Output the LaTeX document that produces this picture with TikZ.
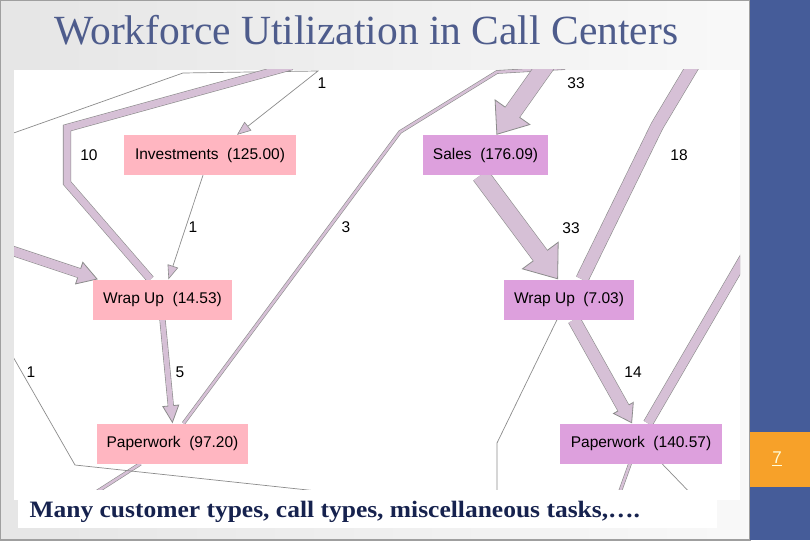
\documentclass[tikz,border=0pt]{standalone}
\usepackage{fontspec}
\setmainfont{Liberation Serif}
\setsansfont{Liberation Sans}
\usetikzlibrary{arrows.meta}

\definecolor{slideblue}{RGB}{69,92,153}
\definecolor{slideorange}{RGB}{247,161,41}
\definecolor{titleblue}{RGB}{78,92,140}
\definecolor{captionblue}{RGB}{22,34,78}
\definecolor{flowfill}{RGB}{214,192,214}
\definecolor{flowline}{RGB}{140,140,140}
\definecolor{invpink}{RGB}{255,182,193}
\definecolor{salesplum}{RGB}{221,160,221}

\pgfdeclarelayer{back}
\pgfdeclarelayer{flows}
\pgfsetlayers{back,flows,main}

\tikzset{
  act/.style={font=\sffamily\fontsize{15.5}{18}\selectfont, inner sep=0pt, minimum height=40pt},
  invact/.style={act, fill=invpink},
  salesact/.style={act, fill=salesplum},
  count/.style={font=\sffamily\fontsize{15.5}{18}\selectfont},
  oneflow/.style={draw=flowline, line width=0.7pt},
  onehead/.style={oneflow, -{Triangle[length=14pt,width=11pt,fill=flowfill,line width=0.6pt]}},
  band/.style={draw=flowline, line width=#1+1.2pt, postaction={draw=flowfill, line width=#1}},
  headband/.style n args={3}{draw=flowline, line width=#1+1.2pt,
    -{Triangle[length=#2,width=#3,fill=flowfill,line width=0.8pt]},
    postaction={draw=flowfill, line width=#1, -, shorten >=0.55*#2}}
}

\begin{document}
\begin{tikzpicture}[x=1pt,y=-1pt]
  \useasboundingbox (0,0) rectangle (810,540);

  % slide
  \begin{pgfonlayer}{back}
    \fill[left color=gray!20, right color=gray!5] (0,0) rectangle (750,540);
    \draw[gray!75, line width=2.5pt] (0,0) rectangle (750,540);
    \fill[slideblue] (750,0) rectangle (810,540);
    \fill[slideorange] (750,432) rectangle (810,487);
    \fill[white] (14,70) rectangle (740,500);
  \end{pgfonlayer}
  \node[anchor=base west, text=titleblue, font=\fontsize{41.5}{44}\selectfont] (title) at (51,45) {Workforce Utilization in Call Centers};
  \node[text=white!85!yellow, font=\sffamily\fontsize{17}{19}\selectfont] (pagenum) at (777,459) {\underline{7}};

  % activities
  \node[invact, minimum width=172pt] (inv) at (210,155) {Investments~ (125.00)};
  \node[salesact, minimum width=125pt] (sales) at (485.5,155) {Sales~ (176.09)};
  \node[invact, minimum width=139pt] (wu1) at (162.5,299.5) {Wrap Up~ (14.53)};
  \node[salesact, minimum width=130pt] (wu2) at (569,299.5) {Wrap Up~ (7.03)};
  \node[invact, minimum width=151pt] (pw1) at (172.5,443.5) {Paperwork~ (97.20)};
  \node[salesact, minimum width=162pt] (pw2) at (641,443.5) {Paperwork~ (140.57)};

  % free ends
  \coordinate (in1) at (8,135);
  \coordinate (in10) at (292,66);
  \coordinate (in9) at (4,248);
  \coordinate (out3) at (565,68);
  \coordinate (in1b) at (8,348);
  \coordinate (out1b) at (345,494);
  \coordinate (in33) at (548,62);
  \coordinate (in18) at (694,64);
  \coordinate (inright) at (747,253);
  \coordinate (out3b) at (84,500);
  \coordinate (outwu) at (497,505);
  \coordinate (outpwa) at (617,500);
  \coordinate (outpwb) at (697,500);

  \begin{pgfonlayer}{flows}
  \begin{scope}
    \clip (14,70) rectangle (740,500);
    % customer side
    \draw[onehead] (in1) -- (183,73) -- (318,71) -- ([xshift=27pt]inv.north);
    \draw[band=7pt] (in10) -- (67,128) -- (67,183) -- ([xshift=-12pt]wu1.north);
    \draw[headband={9pt}{20pt}{24pt}] (in9) -- ([xshift=5pt]wu1.north west);
    \draw[onehead] ([xshift=-7pt]inv.south) -- ([xshift=6pt]wu1.north);
    \draw[headband={5pt}{18pt}{17pt}] (wu1.south) -- (pw1.north);
    \draw[band=2.5pt] ([xshift=11pt]pw1.north) -- (400,132) -- (497,72) -- (out3);
    \draw[band=2.5pt] ([xshift=-32pt]pw1.south) -- (out3b);
    \draw[oneflow] (in1b) -- (75,465) -- (out1b);
    % sales side
    \draw[headband={17pt}{28pt}{44pt}] (in33) -- ([xshift=11pt]sales.north);
    \draw[headband={17pt}{30pt}{46pt}] ([xshift=-5pt]sales.south) -- ([xshift=-11pt]wu2.north);
    \draw[band=12pt] (in18) -- (657,126) -- ([xshift=13pt]wu2.north);
    \draw[headband={12pt}{18pt}{24pt}] ([xshift=5pt]wu2.south) -- ([xshift=-9pt]pw2.north);
    \draw[band=9pt] (inright) -- ([xshift=7pt]pw2.north);
    \draw[oneflow] ([xshift=-12pt]wu2.south) -- (497,443) -- (outwu);
    \draw[band=2.5pt] ([xshift=-11pt]pw2.south) -- (outpwa);
    \draw[oneflow] ([xshift=21pt]pw2.south) -- (outpwb);
  \end{scope}
  \end{pgfonlayer}

  % counts
  \node[count] (n1) at (322,83) {1};
  \node[count] (n10) at (89,155) {10};
  \node[count] (n1c) at (193,227) {1};
  \node[count] (n3) at (346,227) {3};
  \node[count] (n5) at (180,372) {5};
  \node[count] (n1d) at (31,372) {1};
  \node[count] (n33a) at (576,83) {33};
  \node[count] (n18) at (679,155) {18};
  \node[count] (n33b) at (571,228) {33};
  \node[count] (n14) at (633,372) {14};

  % caption
  \fill[white] (18,490) rectangle (717,528);
  \node[anchor=base west, text=captionblue, font=\bfseries\fontsize{23.5}{26}\selectfont] (caption) at (26,517) {\scalebox{1.085}[1]{Many customer types, call types, miscellaneous tasks,….}};
\end{tikzpicture}
\end{document}
